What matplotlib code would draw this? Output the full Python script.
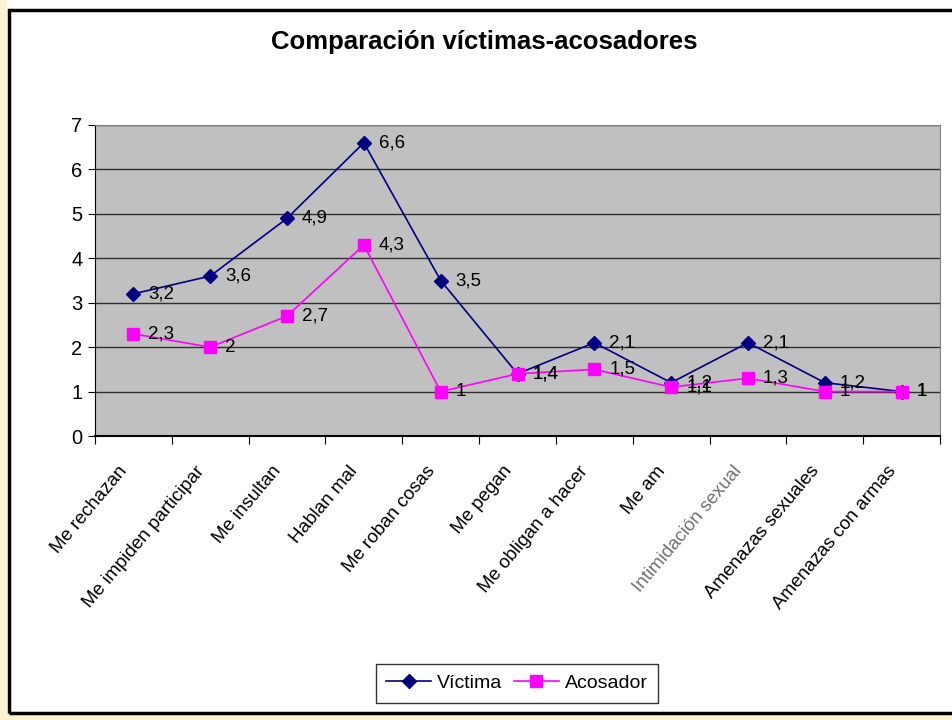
import matplotlib
matplotlib.use("Agg")
import matplotlib.pyplot as plt
from matplotlib.patches import Rectangle
import numpy as np

plt.rcParams['font.family'] = ['Liberation Sans', 'DejaVu Sans']

categories = ["Me rechazan", "Me impiden participar", "Me insultan", "Hablan mal",
              "Me roban cosas", "Me pegan", "Me obligan a hacer", "Me am",
              "Intimidación sexual", "Amenazas sexuales", "Amenazas con armas"]
victima = [3.2, 3.6, 4.9, 6.6, 3.5, 1.4, 2.1, 1.2, 2.1, 1.2, 1]
acosador = [2.3, 2, 2.7, 4.3, 1, 1.4, 1.5, 1.1, 1.3, 1, 1]
yticks = [0, 1, 2, 3, 4, 5, 6, 7]

fig = plt.figure(figsize=(9.53, 7.2), dpi=100)
fig.patch.set_facecolor('white')

# outer frame (screenshot border)
fig.patches.append(Rectangle((0, 0), 7/953, 1, transform=fig.transFigure,
                             facecolor='#FFF2D0', edgecolor='none', zorder=0))
fig.patches.append(Rectangle((0, 0), 1, 6/720, transform=fig.transFigure,
                             facecolor='#FFF2D0', edgecolor='none', zorder=0))
fig.patches.append(Rectangle((9/953, 7/720), 950/953, 703/720, transform=fig.transFigure,
                             facecolor='none', edgecolor='black', linewidth=2.5, zorder=1))

ax = fig.add_axes([95/953, (720-436)/720, 845/953, 311/720])
ax.set_facecolor('#C0C0C0')
x = np.arange(len(categories))
ax.set_xlim(-0.5, len(categories) - 0.5)
ax.set_ylim(0, 7)

for yv in yticks[1:]:
    ax.axhline(yv, color='#303030', linewidth=1.0, zorder=1)

ax.plot(x, victima, color='#000080', marker='D', markersize=7, linewidth=1.2,
        label='Víctima', zorder=3)
ax.plot(x, acosador, color='#FF00FF', marker='s', markersize=8, linewidth=1.2,
        label='Acosador', zorder=4)

for xi, v in zip(x, victima):
    ax.annotate(f"{v:g}".replace('.', ','), (xi, v), xytext=(15, 0),
                textcoords='offset pixels', va='center', ha='left', fontsize=13.5, zorder=5)
for xi, v in zip(x, acosador):
    ax.annotate(f"{v:g}".replace('.', ','), (xi, v), xytext=(15, 0),
                textcoords='offset pixels', va='center', ha='left', fontsize=13.5, zorder=5)

ax.set_yticks(yticks)
ax.set_yticklabels([str(t) for t in yticks], fontsize=14.5)
ax.set_xticks(np.arange(len(categories) + 1) - 0.5)
ax.set_xticklabels([])
ax.tick_params(axis='x', length=6, direction='out', color='black')
ax.tick_params(axis='y', length=5, direction='out', color='black', pad=4)

for xi, lab in zip(x, categories):
    col = '#707070' if lab == "Intimidación sexual" else 'black'
    ax.text(xi - 0.2, -0.6, lab, rotation=50, ha='right', va='top',
            rotation_mode='anchor', fontsize=13.5, color=col,
            transform=ax.transData, clip_on=False)

ax.spines['left'].set_color('black')
ax.spines['bottom'].set_color('black')
ax.spines['bottom'].set_linewidth(1.5)
ax.spines['top'].set_color('#808080')
ax.spines['right'].set_color('#808080')

fig.text(484/953, 1 - 42/720, "Comparación víctimas-acosadores", ha='center', va='center',
         fontsize=18.5, fontweight='bold')

leg = fig.legend(loc='center', bbox_to_anchor=(517/953, 1 - 683/720), ncol=2,
                 fontsize=14, frameon=True, fancybox=False, edgecolor='black',
                 handlelength=2.3, handletextpad=0.3, columnspacing=0.6, borderpad=0.55)
leg.get_frame().set_linewidth(1.0)

fig.savefig('out.png', dpi=100)
